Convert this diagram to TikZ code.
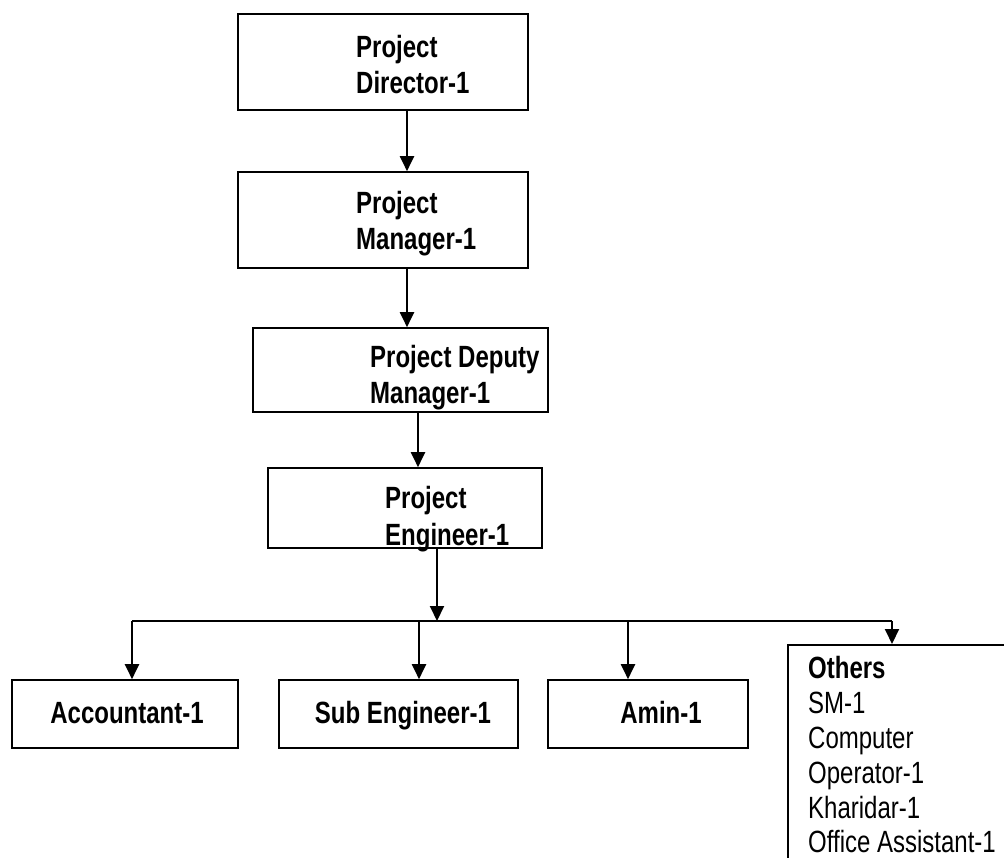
\documentclass[tikz,border=0pt]{standalone}
\usepackage{fontspec}
\setmainfont{Liberation Sans}
\usetikzlibrary{arrows.meta}
\newcommand{\tx}[1]{\scalebox{1}[1.28]{#1}}
\begin{document}
\begin{tikzpicture}[x=1pt,y=-1pt,
  boxst/.style={draw,line width=1.6pt,inner sep=0pt},
  conn/.style={line width=2pt,-{Triangle[length=15pt,width=14pt]}},
  bold/.style={font=\fontsize{24}{35}\selectfont\bfseries,inner sep=0pt,anchor=base west},
  reg/.style={font=\fontsize{24}{35}\selectfont,inner sep=0pt,anchor=base west},
  ctr/.style={font=\fontsize{24}{35}\selectfont\bfseries,inner sep=0pt,anchor=base}]
\useasboundingbox (0,0) rectangle (1004,858);
\clip (0,0) rectangle (1004,858);
% boxes
\node[boxst,minimum width=290pt,minimum height=96pt] (dir) at (383,62) {};
\node[boxst,minimum width=290pt,minimum height=96pt] (man) at (383,220) {};
\node[boxst,minimum width=295pt,minimum height=84pt] (dep) at (400.5,370) {};
\node[boxst,minimum width=274pt,minimum height=80pt] (eng) at (405,508) {};
\node[boxst,minimum width=226pt,minimum height=68pt] (acc) at (125,714) {};
\node[boxst,minimum width=239pt,minimum height=68pt] (sub) at (398.5,714) {};
\node[boxst,minimum width=200pt,minimum height=68pt] (amin) at (648,714) {};
\node[boxst,minimum width=260pt,minimum height=260pt,anchor=north west] (oth) at (787,644) {};
% texts
\node[bold] (t1) at (356,58) {\tx{Project}};
\node[bold] (t2) at (356,94) {\tx{Director-1}};
\node[bold] (t3) at (356,214) {\tx{Project}};
\node[bold] (t4) at (356,250) {\tx{Manager-1}};
\node[bold] (t5) at (370,368) {\tx{Project Deputy}};
\begin{scope}
\clip (dep.north west) rectangle ([yshift=-7pt]dep.south east);
\node[bold] (t6) at (370,404) {\tx{Manager-1}};
\end{scope}
\node[bold] (t7) at (385,508) {\tx{Project}};
\begin{scope}
\clip (eng.north west) rectangle ([yshift=-7pt]eng.south east);
\node[bold] (t8) at (385,545) {\tx{Engineer-1}};
\end{scope}
\node[ctr] (t9) at (127,723) {\tx{Accountant-1}};
\node[ctr] (t10) at (403,723) {\tx{Sub Engineer-1}};
\node[ctr] (t11) at (661,723) {\tx{Amin-1}};
\node[bold] (o1) at (808,678) {\tx{Others}};
\node[reg] (o2) at (808,713) {\tx{SM-1}};
\node[reg] (o3) at (808,748) {\tx{Computer}};
\node[reg] (o4) at (808,783) {\tx{Operator-1}};
\node[reg] (o5) at (808,818) {\tx{Kharidar-1}};
\node[reg] (o6) at (808,852) {\tx{Office Assistant-1}};
% connectors
\coordinate (a1) at (407,0);
\draw[conn] (a1 |- dir.south) -- (a1 |- man.north);
\draw[conn] (a1 |- man.south) -- (a1 |- dep.north);
\coordinate (a2) at (418,0);
\draw[conn] (a2 |- dep.south) -- (a2 |- eng.north);
\coordinate (bus) at (437,621);
\coordinate (busL) at (132,621);
\coordinate (busR) at (892,621);
\draw[conn] (bus |- eng.south) -- (bus);
\draw[line width=2pt] (busL) -- (busR);
\coordinate (d2) at (419,621);
\coordinate (d3) at (628,621);
\draw[conn] (busL) -- (busL |- acc.north);
\draw[conn] (d2) -- (d2 |- sub.north);
\draw[conn] (d3) -- (d3 |- amin.north);
\draw[conn] (busR) -- (busR |- oth.north);
\end{tikzpicture}
\end{document}
